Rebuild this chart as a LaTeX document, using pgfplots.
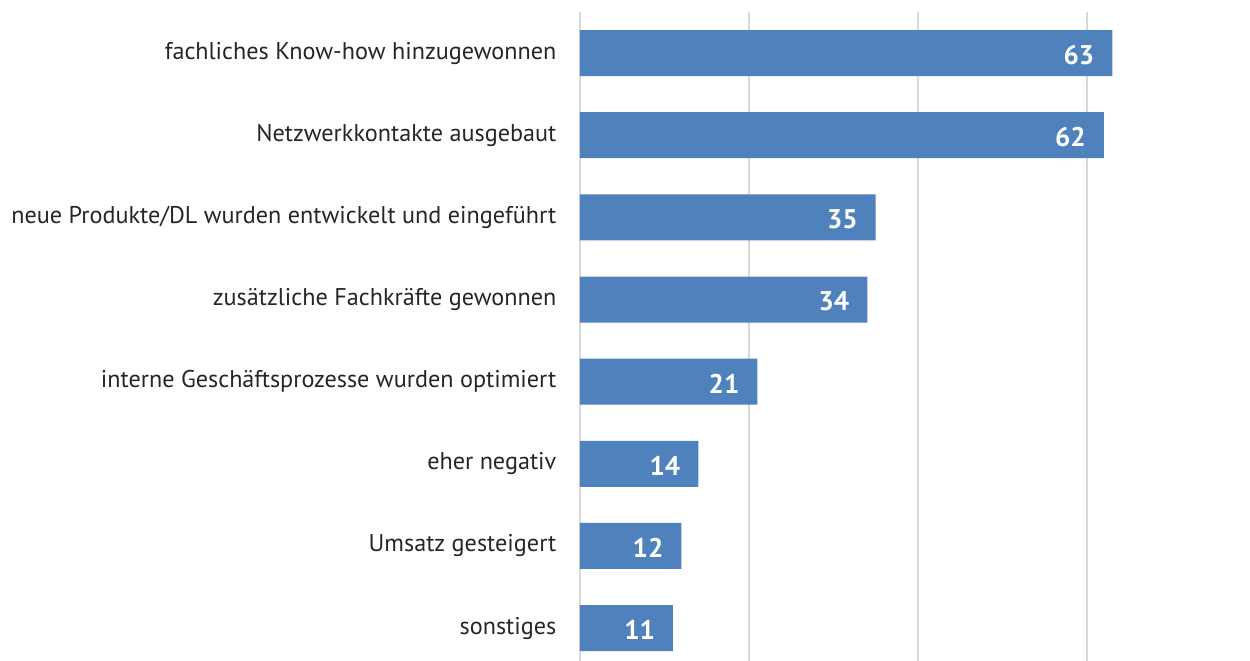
\documentclass[border=0pt]{standalone}
\usepackage{pgfplots}
\pgfplotsset{compat=1.18}
\usepackage{fontspec}
\setmainfont{PT Sans}
\definecolor{barblue}{HTML}{4F81BD}
\definecolor{gridgray}{HTML}{D9D9D9}
\begin{document}
\begin{tikzpicture}
\begin{axis}[
  scale only axis,
  width=335pt, height=324.5pt,
  xbar, bar width=23pt,
  xmin=0, xmax=79.3,
  ymin=-0.5, ymax=7.4,
  y dir=reverse,
  ytick={0,...,7},
  yticklabels={fachliches Know-how hinzugewonnen, Netzwerkkontakte ausgebaut, neue Produkte/DL wurden entwickelt und eingeführt, zusätzliche Fachkräfte gewonnen, interne Geschäftsprozesse wurden optimiert, eher negativ, Umsatz gesteigert, sonstiges},
  yticklabel style={font=\fontsize{12.1}{14}\selectfont, text=black!85, xshift=-4pt},
  xtick={0,20,40,60},
  xticklabels={},
  xmajorgrids,
  grid style={gridgray, line width=1pt},
  axis line style={draw=none},
  tick style={draw=none},
  /pgf/number format/assume math mode=true,
  nodes near coords,
  nodes near coords style={anchor=east, xshift=-5.5pt, yshift=-1pt, text=white, font=\fontsize{13.5}{15}\selectfont\bfseries},
]
\addplot[fill=barblue, draw=none] coordinates {(63,0) (62,1) (35,2) (34,3) (21,4) (14,5) (12,6) (11,7)};
\end{axis}
\pgfresetboundingbox
\useasboundingbox (current axis.south west) ++(-290pt,0) rectangle ([yshift=6pt]current axis.north east);
\end{tikzpicture}
\end{document}
